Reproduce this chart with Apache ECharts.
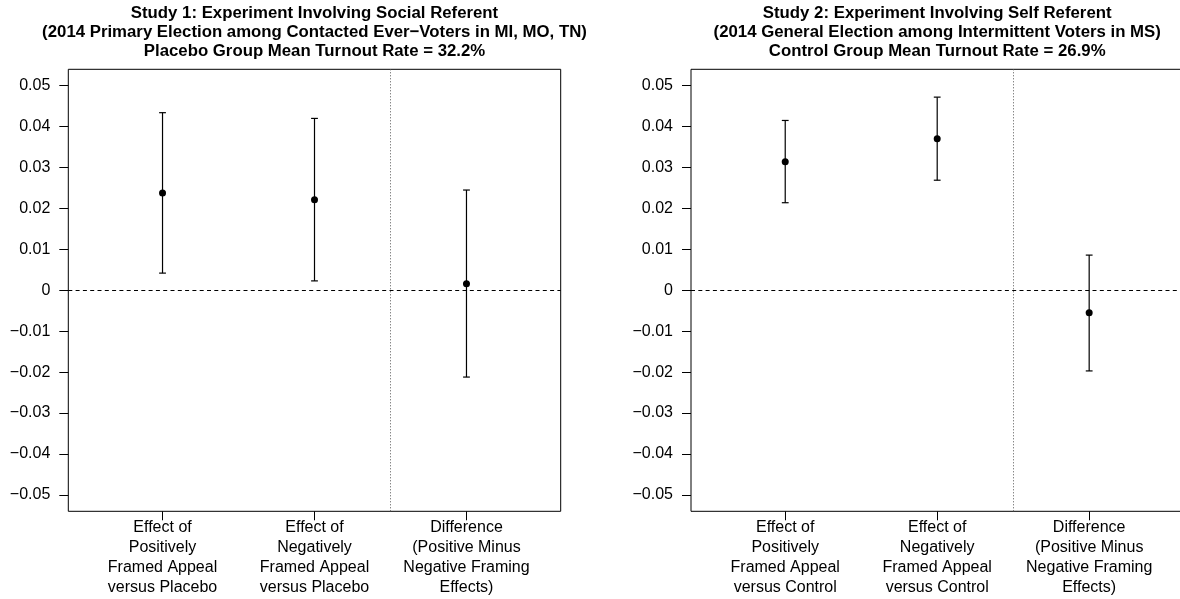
<!DOCTYPE html>
<html>
<head>
<meta charset="utf-8">
<script src="https://cdn.jsdelivr.net/npm/echarts@6/dist/echarts.min.js"></script>
<style>
html,body{margin:0;padding:0;background:#fff;}
#chart{width:1180px;height:599px;}
</style>
</head>
<body>
<div id="chart"></div>
<script>
// ---- data ----
const xPositions = [1, 2, 3];
const study1Labels = [
  'Effect of\nPositively\nFramed Appeal\nversus Placebo',
  'Effect of\nNegatively\nFramed Appeal\nversus Placebo',
  'Difference\n(Positive Minus\nNegative Framing\nEffects)'
];
const study2Labels = [
  'Effect of\nPositively\nFramed Appeal\nversus Control',
  'Effect of\nNegatively\nFramed Appeal\nversus Control',
  'Difference\n(Positive Minus\nNegative Framing\nEffects)'
];
const study1Estimate = [0.0238, 0.0221, 0.0016];
const study1Lower = [0.0042, 0.0023, -0.0212];
const study1Upper = [0.0434, 0.0420, 0.0245];
const study2Estimate = [0.0314, 0.0370, -0.0055];
const study2Lower = [0.0214, 0.0269, -0.0197];
const study2Upper = [0.0415, 0.0472, 0.0086];
const yTicks = [-0.05, -0.04, -0.03, -0.02, -0.01, 0, 0.01, 0.02, 0.03, 0.04, 0.05];
const yTickLabels = ['\u22120.05', '\u22120.04', '\u22120.03', '\u22120.02', '\u22120.01', '0', '0.01', '0.02', '0.03', '0.04', '0.05'];
const study1Title = 'Study 1: Experiment Involving Social Referent\n(2014 Primary Election among Contacted Ever\u2212Voters in MI, MO, TN)\nPlacebo Group Mean Turnout Rate = 32.2%';
const study2Title = 'Study 2: Experiment Involving Self Referent\n(2014 General Election among Intermittent Voters in MS)\nControl Group Mean Turnout Rate = 26.9%';
const dividerX = 2.5;
const zeroY = 0;

// ---- chart ----
const FONT = '"Liberation Sans", Arial, Helvetica, sans-serif';
const chart = echarts.init(document.getElementById('chart'), null, {renderer: 'canvas'});

function yLabel(v) {
  let best = 0, bd = Infinity;
  yTicks.forEach((t, i) => { const d = Math.abs(t - v); if (d < bd) { bd = d; best = i; } });
  return yTickLabels[best];
}

const GRID_W = 492.4, GRID_H = 442, GRID_TOP = 69.3;
const gridBase = {width: GRID_W, height: GRID_H, top: GRID_TOP, show: true, borderColor: '#000', borderWidth: 1,
  backgroundColor: 'transparent', containLabel: false, outerBoundsMode: 'none'};
const grids = [
  Object.assign({left: 68.3}, gridBase),
  Object.assign({left: 691}, gridBase)
];

function makeX(idx, labels) {
  return {
    type: 'value', gridIndex: idx, min: 0.38, max: 3.62,
    splitLine: {show: false},
    axisLine: {show: false, onZero: false},
    axisTick: {show: true, customValues: xPositions, length: 9, lineStyle: {color: '#000', width: 1}},
    axisLabel: {
      show: true, customValues: xPositions, margin: 6,
      color: '#000', fontSize: 16, lineHeight: 20, fontFamily: FONT, align: 'center',
      formatter: v => labels[Math.round(v) - 1]
    }
  };
}
function makeY(idx) {
  return {
    type: 'value', gridIndex: idx, min: -0.054, max: 0.054,
    splitLine: {show: false},
    axisLine: {show: false, onZero: false},
    axisTick: {show: true, customValues: yTicks, length: 9, lineStyle: {color: '#000', width: 1}},
    axisLabel: {show: true, customValues: yTicks, margin: 18, color: '#000', fontSize: 16, fontFamily: FONT, formatter: yLabel}
  };
}

function errorSeries(idx, lower, upper) {
  return {
    type: 'custom', xAxisIndex: idx, yAxisIndex: idx, silent: true,
    encode: {x: 0, y: [1, 2]},
    data: xPositions.map((x, i) => [x, lower[i], upper[i]]),
    renderItem: function (params, api) {
      const x = api.value(0);
      const lo = api.coord([x, api.value(1)]);
      const hi = api.coord([x, api.value(2)]);
      const cap = 3.4;
      const st = {stroke: '#000', lineWidth: 1.2};
      return {type: 'group', children: [
        {type: 'line', shape: {x1: lo[0], y1: lo[1], x2: hi[0], y2: hi[1]}, style: st},
        {type: 'line', shape: {x1: lo[0] - cap, y1: lo[1], x2: lo[0] + cap, y2: lo[1]}, style: st},
        {type: 'line', shape: {x1: hi[0] - cap, y1: hi[1], x2: hi[0] + cap, y2: hi[1]}, style: st}
      ]};
    },
    z: 3
  };
}
function pointSeries(idx, est) {
  return {
    type: 'scatter', xAxisIndex: idx, yAxisIndex: idx, silent: true,
    symbol: 'circle', symbolSize: 7,
    itemStyle: {color: '#000', opacity: 1},
    data: xPositions.map((x, i) => [x, est[i]]),
    z: 4,
    markLine: {
      silent: true, symbol: 'none', label: {show: false},
      animation: false,
      data: [
        {yAxis: zeroY, lineStyle: {color: '#000', type: [4, 3.3], width: 1}},
        {xAxis: dividerX, lineStyle: {color: '#555', type: [1, 2], width: 1}}
      ]
    }
  };
}

const titleStyle = {fontSize: 16.8, fontWeight: 'bold', color: '#000', lineHeight: 19, fontFamily: FONT};
const option = {
  animation: false,
  backgroundColor: '#fff',
  title: [
    {text: study1Title, left: 314.5, top: 4, padding: 0, textAlign: 'center', textStyle: titleStyle},
    {text: study2Title, left: 937.2, top: 4, padding: 0, textAlign: 'center', textStyle: titleStyle}
  ],
  grid: grids,
  xAxis: [makeX(0, study1Labels), makeX(1, study2Labels)],
  yAxis: [makeY(0), makeY(1)],
  series: [
    errorSeries(0, study1Lower, study1Upper),
    pointSeries(0, study1Estimate),
    errorSeries(1, study2Lower, study2Upper),
    pointSeries(1, study2Estimate)
  ]
};
chart.setOption(option);
</script>
</body>
</html>
